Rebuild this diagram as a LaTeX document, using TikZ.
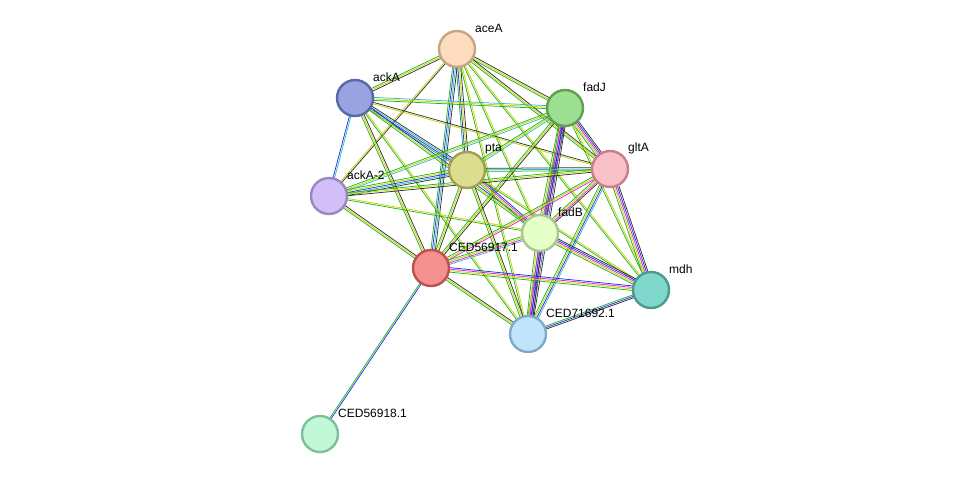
\documentclass[tikz,border=0pt]{standalone}
\usepackage{fontspec}
\setmainfont{Liberation Sans}
\usetikzlibrary{calc}
\definecolor{eg}{HTML}{22B422}
\definecolor{ey}{HTML}{C8D400}
\definecolor{ek}{HTML}{333333}
\definecolor{eb}{HTML}{2233DD}
\definecolor{ec}{HTML}{33BBCC}
\definecolor{em}{HTML}{DD22DD}
\definecolor{ep}{HTML}{7755AA}
\newcommand\edg[4]{%
  \foreach \c [count=\i] in {#4}{%
    \pgfmathsetmacro\o{(\i-1-(#3-1)/2)*1.5}%
    \draw[draw=\c, line width=0.75pt] ($(#1)!\o pt!90:(#2)$) -- ($(#2)!\o pt!-90:(#1)$);
  }}
\newcommand\pn[4]{\definecolor{f#1}{HTML}{#2}\definecolor{d#1}{HTML}{#3}%
  \node[prot, fill=f#1, draw=d#1] (n#1) at (#1) {};
  \node[lab] at ($(#1)+(17,-21)$) {#4};}
\tikzset{prot/.style={circle, minimum size=36pt, inner sep=0pt, line width=2.4pt},
  lab/.style={anchor=west, font=\fontsize{12}{14}\selectfont, inner sep=1pt}}
\begin{document}
\begin{tikzpicture}[x=1pt,y=-1pt]
\useasboundingbox (0,0) rectangle (975,480);
\coordinate (aceA) at (457,49);
\coordinate (ackA) at (355,98);
\coordinate (fadJ) at (565,108);
\coordinate (pta) at (467,170);
\coordinate (gltA) at (610,169);
\coordinate (ackAb) at (329,196);
\coordinate (fadB) at (540,233);
\coordinate (cA) at (431,268);
\coordinate (mdh) at (651,290);
\coordinate (cB) at (528,334);
\coordinate (cC) at (320,434);
% edges
\edg{aceA}{ackA}{3}{eg,ey,ek}
\edg{aceA}{fadJ}{3}{eg,ey,ek}
\edg{aceA}{pta}{4}{eg,eb,ey,ek}
\edg{aceA}{gltA}{3}{eg,ey,ek}
\edg{aceA}{ackAb}{2}{ey,ek}
\edg{aceA}{fadB}{2}{eg,ey}
\edg{aceA}{cA}{4}{eg,eb,ec,ek}
\edg{aceA}{cB}{2}{eg,ey}
\edg{aceA}{mdh}{2}{eg,ey}
\edg{ackA}{ackAb}{2}{eb,ec}
\edg{ackA}{pta}{4}{eg,eb,ec,ek}
\edg{ackA}{fadJ}{3}{eg,ey,ec}
\edg{ackA}{gltA}{2}{ey,ek}
\edg{ackA}{fadB}{3}{eg,ey,eb}
\edg{ackA}{cA}{3}{eg,ey,ek}
\edg{ackA}{cB}{2}{eg,ey}
\edg{fadJ}{pta}{3}{eg,ey,ec}
\edg{fadJ}{gltA}{5}{eg,ey,em,eb,ek}
\edg{fadJ}{fadB}{5}{eg,ey,em,eb,ek}
\edg{fadJ}{ackAb}{3}{eg,ey,ec}
\edg{fadJ}{cA}{3}{eg,ey,ek}
\edg{fadJ}{cB}{5}{eg,em,eb,ep,ek}
\edg{fadJ}{mdh}{2}{eg,ey}
\edg{pta}{gltA}{3}{eg,ec,ek}
\edg{pta}{ackAb}{5}{eg,ey,eb,ec,ek}
\edg{pta}{fadB}{4}{eg,ey,em,eb}
\edg{pta}{cA}{3}{eg,ey,ek}
\edg{pta}{cB}{3}{eg,ey,ek}
\edg{pta}{mdh}{2}{eg,ey}
\edg{gltA}{fadB}{4}{eg,ey,em,ek}
\edg{gltA}{ackAb}{3}{eg,ey,ek}
\edg{gltA}{cA}{3}{eg,ey,em}
\edg{gltA}{mdh}{5}{eg,ey,em,eb,ek}
\edg{gltA}{cB}{4}{eg,ey,eb,ec}
\edg{ackAb}{cA}{3}{eg,ey,ek}
\edg{ackAb}{fadB}{2}{eg,ey}
\edg{fadB}{cA}{4}{eg,ey,em,ec}
\edg{fadB}{cB}{5}{eg,ey,em,eb,ek}
\edg{fadB}{mdh}{5}{eg,ey,em,eb,ek}
\edg{cA}{mdh}{4}{eg,ey,em,eb}
\edg{cA}{cB}{3}{eg,ey,ek}
\edg{cA}{cC}{2}{eg,eb}
\edg{mdh}{cB}{3}{eg,eb,ek}
% nodes and labels
\pn{aceA}{FDDCBF}{C8A582}{aceA}
\pn{ackA}{98A3E0}{5A67A8}{ackA}
\pn{fadJ}{9CDF90}{5DA050}{fadJ}
\pn{pta}{DDDD90}{A0A050}{pta}
\pn{gltA}{F8C0C8}{C87F8A}{gltA}
\pn{ackAb}{D3BFF8}{9A86C0}{ackA-2}
\pn{fadB}{E4FFC8}{A8C890}{fadB}
\pn{cA}{F59090}{C05050}{CED56917.1}
\pn{mdh}{80D8CC}{4A9A90}{mdh}
\pn{cB}{C0E4FC}{80AAC8}{CED71692.1}
\pn{cC}{C0F8D8}{80C098}{CED56918.1}
\end{tikzpicture}
\end{document}
